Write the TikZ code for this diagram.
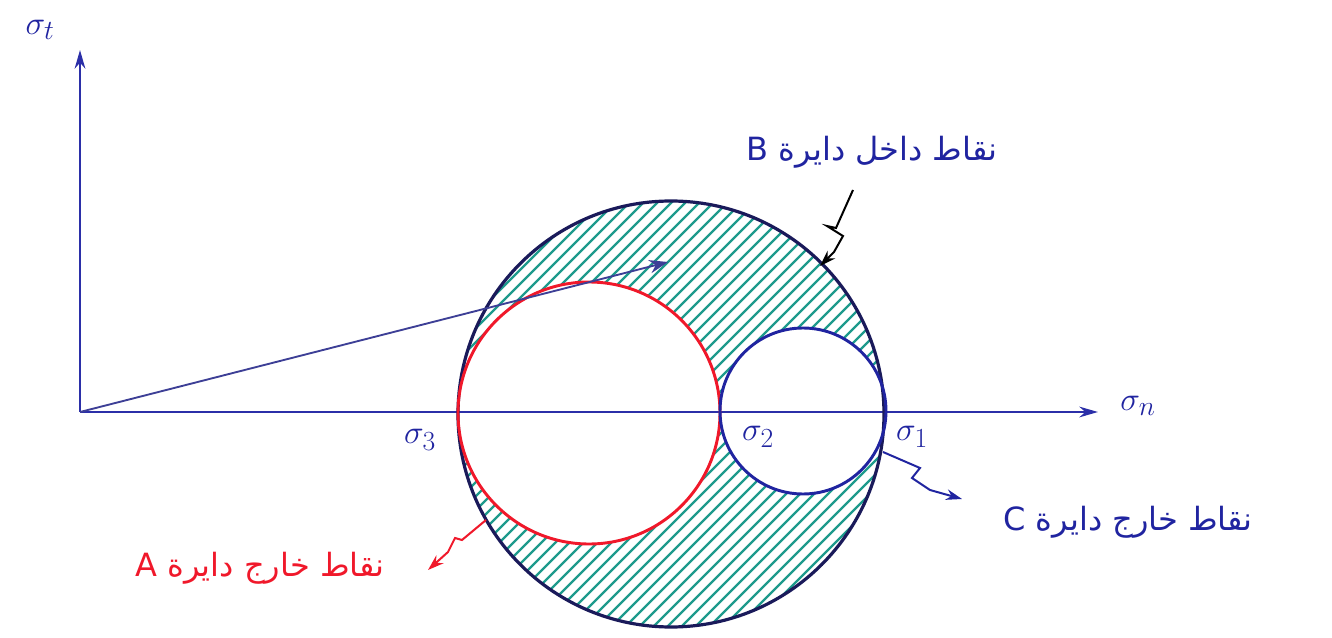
\documentclass[tikz,border=0pt]{standalone}
\usepackage{fontspec}
\newfontfamily\arabicfont[Script=Arabic]{DejaVu Sans}
\TeXXeTstate=1
\usetikzlibrary{arrows.meta}
\definecolor{axisblue}{HTML}{2B2FA8}
\definecolor{navy}{HTML}{1A1A5A}
\definecolor{hatch}{HTML}{1E9A8C}
\definecolor{penred}{HTML}{F0182A}
\definecolor{penblue}{HTML}{2024A0}
\tikzset{
  axis/.style={draw=axisblue, line width=2pt, -{Stealth[length=14pt,width=8pt]}},
  siglabel/.style={text=penblue, font=\fontsize{30}{34}\selectfont, inner sep=0pt},
  arlabel/.style={font=\arabicfont\fontsize{24}{28}\selectfont, inner sep=0pt},
  leader/.style={line width=1.5pt, -{Stealth[length=12pt,width=8pt]}},
}
\begin{document}
\begin{tikzpicture}[x=0.75pt,y=-0.75pt]
\useasboundingbox (0,0) rectangle (1332,638);
% key points
\coordinate (O) at (80,412);
\coordinate (C1) at (671,414);
\coordinate (CA) at (589,413);
\coordinate (CC) at (803,411);
% hatching in the big circle
\begin{scope}
  \clip (C1) circle[radius=213];
  \foreach \c in {0,14,...,920} \draw[hatch, line width=1.8pt] (\c,650) -- ++(560,-560);
\end{scope}
\fill[white] (CA) circle[radius=131];
\fill[white] (CC) circle[radius=83];
% axes
\coordinate (Ytip) at (80,50);
\coordinate (Xtip) at (1098,412);
\draw[axis] (O) -- (Ytip);
\draw[axis] (O) -- (Xtip);
% circles
\draw[navy, line width=2.4pt] (C1) circle[radius=213];
\draw[penred, line width=2.2pt] (CA) circle[radius=131];
\draw[penblue, line width=2.2pt] (CC) circle[radius=83];
% ray from origin
\coordinate (R) at (668,262);
\draw[draw=penblue!70!gray, line width=1.4pt, -{Stealth[length=14pt,width=10pt]}] (O) -- (R);
% axis labels
\node[siglabel] (st) at (40,30) {$\sigma_t$};
\node[siglabel] (sn) at (1138,406) {$\sigma_n$};
\node[siglabel] (s3) at (420,440) {$\sigma_3$};
\node[siglabel] (s2) at (758,437) {$\sigma_2$};
\node[siglabel] (s1) at (912,437) {$\sigma_1$};
% Arabic labels
\node[arlabel, text=penblue] (B) at (872,152) {\beginR نقاط داخل دایرة B\endR};
\node[arlabel, text=penred] (A) at (260,568) {\beginR نقاط خارج دایرة A\endR};
\node[arlabel, text=penblue] (C) at (1128,522) {\beginR نقاط خارج دایرة C\endR};
% leaders
\coordinate (Bs) at (853,190);
\coordinate (Be) at (820,266);
\draw[leader, black] (Bs) -- (836,228) -- (827,226) -- (843,236) -- (834,252) -- (Be);
\coordinate (Cs) at (883,452);
\coordinate (Ce) at (962,499);
\draw[leader, penblue] (Cs) -- (920,468) -- (912,478) -- (930,490) -- (Ce);
\coordinate (As) at (486,520);
\coordinate (Ae) at (428,570);
\draw[leader, penred] (As) -- (462,540) -- (455,538) -- (448,552) -- (Ae);
\end{tikzpicture}
\end{document}
